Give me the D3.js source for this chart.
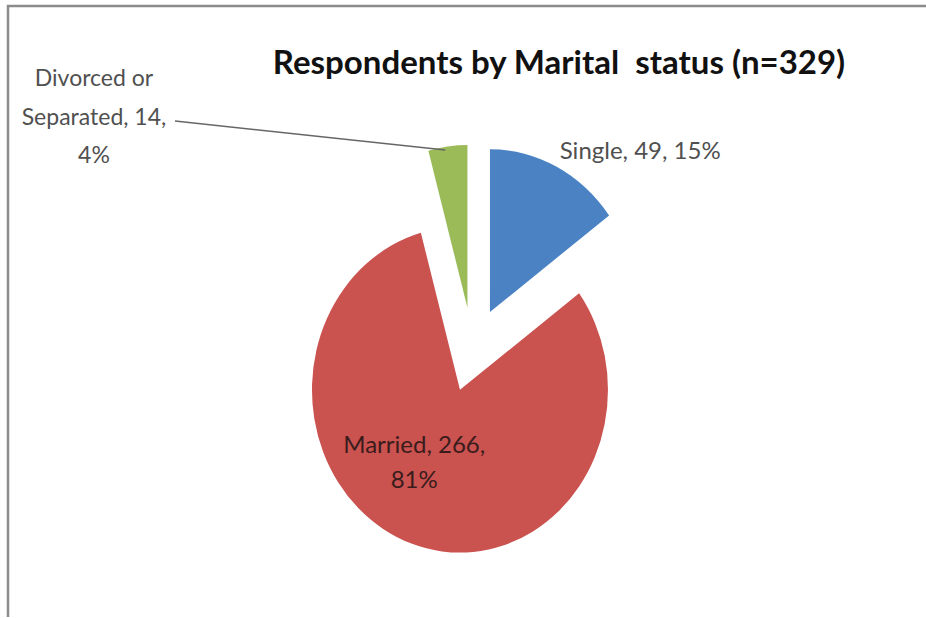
<!DOCTYPE html>
<html>
<head>
<meta charset="utf-8">
<script src="https://cdn.jsdelivr.net/npm/d3@7"></script>
<style>
  body { margin: 0; background: #fff; overflow: hidden; }
  svg { display: block; }
  text { font-family: Lato, "Open Sans", sans-serif; white-space: pre; }
</style>
</head>
<body>
<div class="graph"></div>
<script>
var categories = ['Single', 'Married', 'Divorced or Separated'];
var counts = [49, 266, 14];
var percents = ['15%', '81%', '4%'];
var colors = ['#4a82c4', '#ca524f', '#9bbb59'];
var title = 'Respondents by Marital  status (n=329)';

var width = 926, height = 618;
var radius = 148,      // horizontal radius
    stretch = 1.1,     // the picture is a bit taller than wide
    explode = 38.5;    // how far each slice is pulled out

var svg = d3.select('.graph').append('svg')
    .attr('width', width)
    .attr('height', height);

// frame (only top and left edges show in the picture)
svg.append('path')
    .attr('d', 'M8,617 L8,6 L926,6')
    .attr('fill', 'none')
    .attr('stroke', '#8c8c8c')
    .attr('stroke-width', 2.5);

svg.append('text')
    .attr('x', 559)
    .attr('y', 74)
    .attr('text-anchor', 'middle')
    .attr('font-size', 33)
    .attr('font-weight', 'bold')
    .attr('fill', '#111')
    .text(title);

var data = categories.map(function (c, i) {
  return { name: c, value: counts[i], pct: percents[i], color: colors[i] };
});

var pie = d3.pie()
    .sort(null)
    .value(function (d) { return d.value; });

var arc = d3.arc()
    .innerRadius(0)
    .outerRadius(radius);

var arcs = pie(data);

var cx = 472.6, cy = 349.8;

// offset of a slice's tip after exploding it along its middle angle
function shift(d) {
  var a = (d.startAngle + d.endAngle) / 2;
  return [Math.sin(a) * explode, -Math.cos(a) * explode];
}

var pieG = svg.append('g')
    .attr('transform', 'translate(' + cx + ',' + cy + ') scale(1,' + stretch + ')');

pieG.selectAll('path')
  .data(arcs)
  .enter().append('path')
    .attr('transform', function (d) { return 'translate(' + shift(d) + ')'; })
    .attr('d', arc)
    .attr('fill', function (d) { return d.data.color; });

// page position of a point at angle a, distance r from a slice's tip
function toPage(d, a, r) {
  var s = shift(d);
  return [cx + s[0] + Math.sin(a) * r, cy + (s[1] - Math.cos(a) * r) * stretch];
}

// Single: outside, to the upper right
var single = arcs[0];
var sp = toPage(single, 0.5, radius + 10);
svg.append('text')
    .attr('x', sp[0] - 6)
    .attr('y', sp[1])
    .attr('font-size', 24)
    .attr('fill', '#505050')
    .text(single.data.name + ', ' + single.data.value + ', ' + single.data.pct);

// Married: inside the slice
var married = arcs[1];
var mp = toPage(married, 3.75, 80);
svg.append('text')
    .attr('x', mp[0])
    .attr('y', mp[1])
    .attr('text-anchor', 'middle')
    .attr('font-size', 24)
    .attr('fill', '#3a1c1c')
    .selectAll('tspan')
    .data([married.data.name + ', ' + married.data.value + ',', married.data.pct])
    .enter().append('tspan')
      .attr('x', mp[0])
      .attr('dy', function (d, i) { return i ? 35 : -9; })
      .text(function (d) { return d; });

// Divorced or Separated: outside on the left with a leader line
var div = arcs[2];
var tip = toPage(div, div.startAngle + 0.02, radius);
svg.append('line')
    .attr('x1', 175)
    .attr('y1', 121)
    .attr('x2', tip[0] + 14)
    .attr('y2', tip[1])
    .attr('stroke', '#666')
    .attr('stroke-width', 1.5);

var divLines = ['Divorced or', 'Separated, ' + div.data.value + ',', div.data.pct];
svg.append('text')
    .attr('text-anchor', 'middle')
    .attr('font-size', 23)
    .attr('fill', '#505050')
    .selectAll('tspan')
    .data(divLines)
    .enter().append('tspan')
      .attr('x', 94)
      .attr('y', function (d, i) { return 86 + i * 38.5; })
      .text(function (d) { return d; });
</script>
</body>
</html>
